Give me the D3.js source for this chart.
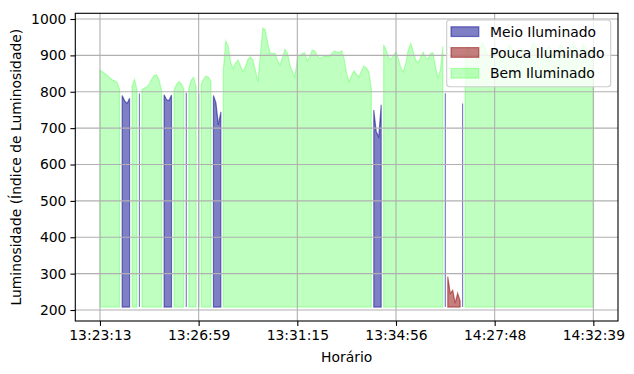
<!DOCTYPE html>
<html>
<head>
<meta charset="utf-8">
<script src="https://cdn.jsdelivr.net/npm/d3@7"></script>
<style>
  html, body { margin: 0; padding: 0; background: #fff; }
  svg { display: block; font-family: "DejaVu Sans", sans-serif; }
</style>
</head>
<body>
<svg id="chart" width="634" height="374"></svg>
<script>
// ---- data ----
const luminosity = [
  860,855,850,845,838,833,830,825,805,790,
  775,768,782,815,834,806,795,806,810,813,
  822,835,845,846,832,802,792,778,776,791,
  804,820,828,822,808,797,808,832,840,812,
  795,820,835,843,840,828,790,770,709,745,
  860,940,925,880,864,880,887,870,855,870,
  890,896,887,860,828,900,975,970,935,906,
  905,906,885,874,895,917,906,875,855,841,
  890,900,905,907,885,895,915,913,900,892,
  895,898,898,898,905,912,910,908,913,890,
  850,828,845,858,848,841,858,871,865,855,
  809,750,690,676,764,929,915,895,889,900,
  910,890,865,855,880,915,933,910,887,880,
  895,909,895,890,905,907,870,837,860,925,
  796,292,246,254,219,246,225,768,905,925,
  915,890,880,900,920,935,925,905,895,910,
  925,915,895,885,900,915,930,920,900,890,
  905,920,910,895,905,925,935,920,900,890,
  900,915,925,910,895,905,920,930,915,900,
  910,925,935,920,905,915,930,920,905,915,
  920
];
const baselineValue = 208;
const tickLabels = ["13:23:13","13:26:59","13:31:15","13:34:56","14:27:48","14:32:39"];
const tickIndex = [0, 40, 80, 120, 160, 200];
const yTicks = [200, 300, 400, 500, 600, 700, 800, 900, 1000];
const categories = ["Meio Iluminado", "Pouca Iluminado", "Bem Iluminado"];
const limits = [300, 800]; // below 300: Pouca, 300-800: Meio, >=800: Bem
const yDomain = [169.8, 1015.7];

// ---- styles ----
const styles = {
  "Meio Iluminado":  { color: "rgb(0,0,139)",   alpha: 0.5 },
  "Pouca Iluminado": { color: "rgb(139,0,0)",   alpha: 0.5 },
  "Bem Iluminado":   { color: "rgb(0,255,0)",   alpha: 0.25 }
};

const svg = d3.select("#chart");
const L = 75.3, R = 618, T = 13.3, B = 321;

const n = luminosity.length;
const x = d3.scaleLinear().domain([0, n - 1]).range([L + (R - L) * 0.05 / 1.1, R - (R - L) * 0.05 / 1.1]);
const y = d3.scaleLinear().domain(yDomain).range([B, T]);

function category(v) {
  if (v < limits[0]) return "Pouca Iluminado";
  if (v < limits[1]) return "Meio Iluminado";
  return "Bem Iluminado";
}

// build contiguous runs
const runs = [];
let cur = null;
luminosity.forEach((v, i) => {
  const c = category(v);
  if (!cur || cur.cat !== c) { cur = { cat: c, pts: [] }; runs.push(cur); }
  cur.pts.push({ i, v });
});

svg.append("clipPath").attr("id", "clip")
  .append("rect").attr("x", L).attr("y", T).attr("width", R - L).attr("height", B - T);

const area = d3.area()
  .x(d => x(d.i))
  .y0(y(baselineValue))
  .y1(d => y(d.v));

const gFill = svg.append("g").attr("clip-path", "url(#clip)");
categories.forEach(cat => {
  const st = styles[cat];
  runs.filter(r => r.cat === cat).forEach(r => {
    gFill.append("path")
      .attr("d", area(r.pts))
      .attr("fill", st.color).attr("fill-opacity", st.alpha)
      .attr("stroke", st.color).attr("stroke-opacity", st.alpha)
      .attr("stroke-width", 1.2).attr("stroke-linejoin", "miter");
  });
});

// grid (above fills, as in matplotlib)
const gGrid = svg.append("g");
tickIndex.forEach(t => {
  gGrid.append("line").attr("x1", x(t)).attr("x2", x(t)).attr("y1", T).attr("y2", B)
    .attr("stroke", "#b0b0b0").attr("stroke-width", 1.1);
});
yTicks.forEach(t => {
  gGrid.append("line").attr("x1", L).attr("x2", R).attr("y1", y(t)).attr("y2", y(t))
    .attr("stroke", "#b0b0b0").attr("stroke-width", 1.1);
});

// axes
const xAxis = d3.axisBottom(x).tickValues(tickIndex)
  .tickFormat((d, i) => tickLabels[i]).tickSizeOuter(0).tickSize(4.9).tickPadding(4);
const yAxis = d3.axisLeft(y).tickValues(yTicks).tickFormat(d3.format("d"))
  .tickSizeOuter(0).tickSize(4.9).tickPadding(4);

const gx = svg.append("g").attr("transform", `translate(0,${B})`).call(xAxis);
const gy = svg.append("g").attr("transform", `translate(${L},0)`).call(yAxis);
[gx, gy].forEach(g => {
  g.select(".domain").remove();
  g.selectAll(".tick line").attr("stroke", "#000").attr("stroke-width", 1.1);
  g.selectAll(".tick text").attr("fill", "#000")
    .style("font-family", "DejaVu Sans").style("font-size", "13.9px");
});

// frame
svg.append("rect").attr("x", L).attr("y", T).attr("width", R - L).attr("height", B - T)
  .attr("fill", "none").attr("stroke", "#000").attr("stroke-width", 1.1);

// axis labels
svg.append("text").attr("x", (L + R) / 2).attr("y", 362)
  .attr("text-anchor", "middle").style("font-size", "13.9px").text("Horário");
svg.append("text")
  .attr("transform", `translate(21,${(T + B) / 2}) rotate(-90)`)
  .attr("text-anchor", "middle").style("font-size", "13.9px")
  .text("Luminosidade (Índice de Luminosidade)");

// legend
const lg = svg.append("g");
lg.append("rect").attr("x", 446.7).attr("y", 20).attr("width", 164).attr("height", 66.7)
  .attr("rx", 3).attr("fill", "#fff").attr("fill-opacity", 0.8)
  .attr("stroke", "#cccccc").attr("stroke-width", 1.1);
categories.forEach((cat, k) => {
  const st = styles[cat];
  const cy = 31.7 + k * 20.8;
  lg.append("rect").attr("x", 451).attr("y", cy - 4.9).attr("width", 27.8).attr("height", 9.7)
    .attr("fill", st.color).attr("fill-opacity", st.alpha)
    .attr("stroke", st.color).attr("stroke-opacity", st.alpha).attr("stroke-width", 1.2);
  lg.append("text").attr("x", 490).attr("y", cy).attr("dy", "0.36em")
    .style("font-size", "13.9px").text(cat);
});
</script>
</body>
</html>
